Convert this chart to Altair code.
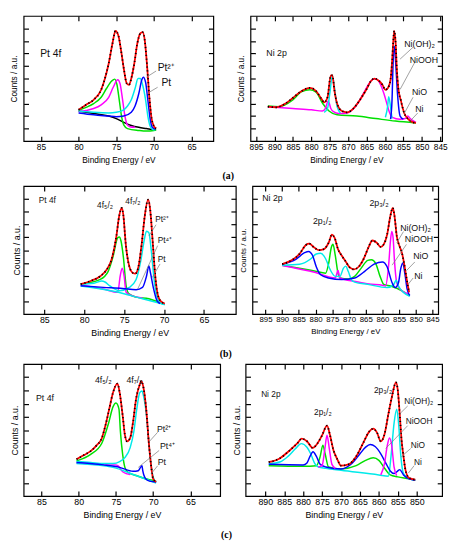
import altair as alt
import pandas as pd

SANS = "Liberation Sans"
SERIF = "Liberation Serif"
KEYS = ["bg", "green", "magenta", "cyan", "blue", "fit"]
COLS = ["#000000", "#00e000", "#ff00ff", "#00eaea", "#0000ff", "#ff0000"]

PT_TICKS = [85, 80, 75, 70, 65]
NI_TICKS_AB = [895, 890, 885, 880, 875, 870, 865, 860, 855, 850, 845]
NI_TICKS_C = [890, 885, 880, 875, 870, 865, 860, 855, 850]
Y_TICKS = [10, 20, 30, 40, 50, 60, 70, 80, 90]

# ---------------- (a) Pt 4f ----------------
A_PT_FIT = [(80, 25), (79, 29), (78, 33), (77, 41), (76.5, 50), (76, 62), (75.5, 78), (75.1, 88), (74.7, 84),
            (74.3, 70), (74, 58), (73.6, 46), (73.3, 45), (73, 50), (72.6, 62), (72.2, 78), (71.8, 86),
            (71.5, 87), (71.2, 80), (70.9, 60), (70.6, 35), (70.3, 18), (70, 12), (69.7, 10)]
A_PT_BG = [(80, 24), (78, 22), (76, 20), (75, 18), (74, 15), (73, 12.5), (72, 11), (71, 10), (70, 9), (69.7, 9)]
A_PT_GREEN = [(80, 24.5), (79, 27), (78, 30), (77, 35), (76.3, 42), (75.6, 48), (75.2, 49.5), (74.9, 45),
              (74.6, 33), (74.3, 20), (74, 13), (73.5, 10), (72, 8.5), (71, 8), (70, 8.5), (69.7, 9)]
A_PT_MAGENTA = [(80, 23.5), (79, 24.5), (78, 26), (77, 29), (76, 35), (75.4, 43), (74.8, 49), (74.5, 46),
                (74.2, 35), (73.9, 22), (73.6, 14), (73.2, 11.5), (72.5, 11)]
A_PT_CYAN = [(80, 24), (78, 23), (76, 22.5), (75, 23), (74, 25), (73.5, 28), (73, 33), (72.5, 42), (72.1, 50),
             (71.8, 50), (71.5, 45), (71.1, 33), (70.8, 20), (70.5, 12), (70.2, 9.5), (69.8, 9)]
A_PT_BLUE = [(80, 22.5), (78, 21), (76, 20), (75, 19.5), (74, 20), (73, 23), (72.5, 28), (72, 38), (71.6, 49),
             (71.4, 51), (71.1, 47), (70.8, 33), (70.5, 18), (70.2, 11), (69.8, 9.5)]
A_PT_LEFT_TEXT = [("Pt 4f", 85.1, 69.5), ("Pt²⁺", 69.5, 58), ("Pt", 69.0, 46)]
A_PT_MID_TEXT = []
A_PT_LEADERS = [(71.0, 51, 69.7, 56), (70.9, 38, 69.5, 43)]

# ---------------- (a) Ni 2p ----------------
A_NI_FIT = [(891.8, 27.5), (889.5, 27), (887, 30), (885.2, 34), (882.6, 40), (880.4, 42.5), (878.7, 40),
            (877.3, 34), (876.5, 31), (875.6, 35), (874.7, 52.5), (874.3, 52.5), (873.7, 40), (873, 30),
            (871.7, 24), (870.3, 23), (868.6, 26), (866.9, 32.5), (865.1, 41), (863.8, 48), (862.9, 50),
            (861.6, 48), (860.7, 45), (859.9, 41), (859.2, 42.5), (858.5, 49), (858.1, 62.5), (857.8, 77.5),
            (857.5, 88), (857.1, 77.5), (856.8, 57.5), (856.4, 42.5), (855.7, 32.5), (854.8, 22.5),
            (853.7, 17.5), (852.4, 15), (851.6, 14.5)]
A_NI_GREEN = [(891.8, 28), (888.7, 27.5), (885.2, 32.5), (882.6, 39.5), (880.4, 41), (878.7, 39), (876.9, 30),
              (875.2, 24), (873, 21), (867.7, 20), (862.5, 18), (857.2, 16), (851.6, 14.5)]
A_NI_MAGENTA = [(891.8, 27.5), (885, 26), (880, 25), (877, 24), (876.2, 26), (875.4, 32), (874.7, 26),
                (874, 23.5), (872.5, 22), (870.3, 22.5), (868.5, 26), (867, 32), (865.5, 40), (864.2, 46.5),
                (863.2, 49.5), (862.3, 49.5), (861.2, 45), (860.3, 38), (859.5, 30), (858.8, 23), (858, 19),
                (856, 17.5), (854.5, 18), (853.8, 20), (853.2, 18), (851.6, 15)]
A_NI_CYAN1 = [(876.5, 23), (875.6, 26), (874.9, 40), (874.3, 52.5), (873.7, 42.5), (873, 27.5), (872.1, 22.5)]
A_NI_CYAN2 = [(859.9, 19), (859.3, 27.5), (859, 35.5), (858.5, 27.5), (858.1, 18)]
A_NI_BLUE = [(858.5, 17.5), (858.1, 32.5), (857.8, 62.5), (857.4, 75.5), (857.1, 62.5), (856.6, 37.5),
             (855.9, 20), (855, 17.5)]
A_NI_LEFT_TEXT = [("Ni 2p", 892.2, 70), ("Ni(OH)₂", 854.8, 77.5), ("NiOOH", 853.3, 65),
                  ("NiO", 852.7, 38.8), ("Ni", 851.8, 25.5)]
A_NI_MID_TEXT = []
A_NI_LEADERS = [(855.9, 65.5, 852.4, 75), (855.9, 41.3, 852.0, 62.5), (854.8, 22, 852.4, 35),
                (853.5, 15, 851.1, 22.5)]

# ---------------- (b) Pt 4f ----------------
B_PT_FIT = [(80.45, 23.4), (79.2, 25.9), (78.0, 29.6), (77.2, 34.7), (76.6, 42.2), (76.0, 59.8), (75.6, 77.4),
            (75.3, 82.9), (75.1, 77.4), (74.8, 54.8), (74.35, 37.2), (73.9, 32.2), (73.6, 31.7), (73.2, 37.2),
            (72.8, 54.8), (72.4, 77.4), (72.0, 89.4), (71.75, 82.4), (71.4, 54.8), (71.1, 29.6), (70.7, 13.3),
            (70.3, 9.5), (69.9, 8.3)]
B_PT_GREEN = [(80.45, 23.4), (78, 27.1), (77, 33.4), (76.4, 44.7), (75.8, 59.8), (75.6, 60.3), (75.4, 57.3),
              (75.1, 44.7), (74.75, 22.1), (74.4, 15.8), (73.5, 13.3), (71.9, 12), (70.3, 8.3)]
B_PT_MAGENTA = [(80.45, 22.6), (77.6, 19.6), (75.8, 17.1), (75.5, 29.6), (75.25, 35.9), (75.0, 29.6),
                (74.75, 17.1), (74.1, 14.6), (72.7, 12.6)]
B_PT_CYAN = [(80.45, 23.4), (78.8, 24.1), (77.8, 25.9), (77.4, 25.1), (76.8, 22.1), (75.6, 18.3), (74.35, 20.9),
             (73.5, 27.1), (72.9, 42.2), (72.5, 57.3), (72.2, 64.8), (71.9, 63.6), (71.6, 49.7), (71.2, 24.6),
             (70.8, 12.1), (70.3, 8.3), (69.9, 7.5)]
B_PT_CYAN_BG = [(80.45, 22.0), (76, 17.5), (72.7, 12.0), (69.9, 7.5)]
B_PT_BLUE = [(80.45, 22.1), (77.6, 20.9), (75.2, 20.1), (73.5, 19.1), (72.7, 20.9), (72.2, 29.6), (71.9, 37.7),
             (71.7, 32.2), (71.3, 19.6), (70.9, 10.8), (70.5, 8.3)]
B_PT_LEFT_TEXT = [("Pt 4f", 85.7, 88.7), ("Pt²⁺", 71.1, 74.4), ("Pt⁴⁺", 70.8, 57.8), ("Pt", 70.8, 42.7)]
B_PT_MID_TEXT = [("4f₅/₂", 77.4, 85.4), ("4f₇/₂", 73.9, 88.0)]
B_PT_LEADERS = [(71.9, 61, 71.0, 69.8), (73.3, 19.6, 70.8, 53.5), (71.5, 28.4, 70.5, 39.2)]

# ---------------- (b) Ni 2p ----------------
B_NI_FIT = [(890, 39), (887.2, 42), (884.8, 47), (882.9, 54), (881.9, 55), (880.4, 52), (879.0, 50),
            (877.5, 50.75), (876.1, 55.75), (875.1, 62), (874.3, 59.5), (873.3, 50.75), (872.2, 45.75),
            (870.9, 40.75), (869.8, 36.5), (868.5, 35), (867.1, 37), (865.6, 43.25), (864.2, 52), (863, 57.5),
            (861.7, 55.75), (860.5, 52.5), (859.6, 54.5), (858.6, 62), (857.6, 77), (856.9, 83), (856.4, 77),
            (855.7, 60.75), (854.9, 53.25), (854.2, 48.25), (853.5, 39.5), (852.8, 28.25), (852, 17)]
B_NI_GREEN = [(890, 38.25), (884, 35.5), (880, 33.5), (877, 32), (876.1, 39.5), (875.3, 52), (874.8, 54.5),
              (874.1, 45.75), (873.3, 32), (872.7, 28.25), (870.2, 27.5), (868.3, 29.5), (866.4, 35.75),
              (864.4, 42), (863.3, 42.5), (862, 39.5), (860.7, 29.5), (859.6, 23.25), (857.6, 22),
              (854, 18), (852, 14.5)]
B_NI_BLUE = [(890, 39), (885.8, 43), (883.3, 48), (882.1, 49), (880.9, 45.75), (879.8, 37), (878.5, 30.75),
             (876.1, 28.25), (872.2, 27), (868.3, 28.25), (865.4, 33.25), (862.5, 39), (860, 40.75),
             (858.6, 37), (857.1, 24.5), (856.2, 20.75), (855.2, 24.5), (854.5, 35.75), (853.9, 40),
             (853.3, 32), (852.6, 19.5), (851.8, 14.5)]
B_NI_CYAN = [(890, 38.25), (884.8, 39), (881.4, 43.25), (879.8, 47), (878.5, 47.5), (877, 43.25),
             (875.6, 34.5), (874.1, 29.5), (872.7, 29.5), (871.7, 35.75), (871, 37.5), (870.2, 33.25),
             (869.3, 27), (868.3, 25), (864.4, 23.25), (858.6, 20.75), (856.6, 23.25), (855.9, 26.5),
             (855.2, 22), (853.7, 17), (851.8, 14)]
B_NI_MAGENTA = [(890, 38.0), (880, 32.5), (874.1, 28.25), (873.3, 34), (872.7, 28.25), (868, 25.5),
                (864, 23.5), (860, 22.5), (859.1, 22), (858.1, 39.5), (857.6, 57), (857.2, 64.5), (856.8, 59.5),
                (856.4, 42), (855.7, 24.5), (854.7, 19.5), (852.3, 15.75)]
B_NI_LEFT_TEXT = [("Ni 2p", 896, 90.75), ("Ni(OH)₂", 854.7, 67.5), ("NiOOH", 853.3, 58.25),
                  ("NiO", 850.8, 45), ("Ni", 850.5, 30)]
B_NI_MID_TEXT = [("2p₁/₂", 878, 72.5), ("2p₃/₂", 861, 86.5)]
B_NI_LEADERS = [(855.7, 55.75, 853.7, 64.5), (857.1, 38.25, 852.8, 54.5), (852.8, 34, 850.3, 40.75),
                (852.3, 23.25, 850.8, 28.25)]

# ---------------- (c) Pt 4f ----------------
C_PT_FIT = [(80.3, 27.8), (79.3, 31), (78.4, 34), (77.6, 38.4), (76.9, 43.8), (76.4, 53.7), (75.9, 66),
            (75.4, 78.3), (74.8, 85.2), (74.5, 78.3), (74.1, 61), (73.8, 46.3), (73.5, 41.4), (73.1, 43.8),
            (72.7, 56.2), (72.3, 73.4), (71.8, 84.5), (71.6, 87), (71.3, 82), (70.9, 63.5), (70.6, 41.4),
            (70.3, 24.1), (70.0, 13), (69.6, 10.6)]
C_PT_GREEN = [(80.3, 26.6), (78.4, 31.5), (76.9, 40), (76.0, 55), (75.4, 67.5), (75.0, 70.4), (74.6, 66),
              (74.4, 48.8), (74.1, 31.5), (73.8, 21.7), (73.4, 18), (72.3, 15.5), (70.5, 12.3), (69.6, 11.3)]
C_PT_CYAN = [(80.3, 26.1), (78.4, 25.4), (76.7, 24.6), (75.4, 24.6), (74.5, 26.1), (73.8, 29.1), (73.1, 36.5),
             (72.6, 48.8), (72.2, 66), (71.8, 78.3), (71.5, 79.5), (71.3, 75.9), (70.9, 61), (70.6, 41.4),
             (70.3, 24.1), (70.0, 14.3), (69.6, 10.6)]
C_PT_CYAN_BG = [(80.3, 24.6), (75.4, 21.7), (72.3, 15.5), (69.6, 9.9)]
C_PT_BLUE = [(80.3, 25.4), (76.7, 23.6), (74.5, 21.7), (72.7, 18.7), (72.0, 19.2), (71.7, 21.7), (71.5, 22.9),
             (71.4, 19.2), (71.0, 13), (70.5, 11.3), (69.6, 10.6)]
C_PT_MAGENTA = [(80.3, 25.1), (76.7, 23.6), (75.1, 23.6), (74.7, 22.9), (74.4, 20.4), (74.0, 18), (73.1, 16.3)]
C_PT_LEFT_TEXT = [("Pt 4f", 85.75, 73.9), ("Pt²⁺", 69.5, 50.5), ("Pt⁴⁺", 69.1, 37.7), ("Pt", 69.4, 26.1)]
C_PT_MID_TEXT = [("4f₅/₂", 76.7, 88.2), ("4f₇/₂", 72.5, 88.2)]
C_PT_LEADERS = [(70.5, 41.4, 69.4, 48.3), (72.0, 21.7, 69.2, 34.5), (70.3, 16.7, 69.4, 22.9)]

# ---------------- (c) Ni 2p ----------------
C_NI_FIT = [(889.1, 25.6), (886.2, 28.5), (883.5, 34.7), (881.5, 40), (880.4, 43.4), (879, 41.5),
            (877.5, 36.5), (876.2, 40), (875, 46), (873.7, 53.3), (872.9, 46), (872, 34.7), (871, 28),
            (870, 23), (868, 24), (866, 30), (864, 41), (862.5, 49), (861.5, 51), (860.5, 48), (859.5, 41.4),
            (858.5, 47), (857.5, 62), (856.5, 76), (855.5, 86), (855, 80), (854.5, 62), (854, 42),
            (853.5, 30), (853, 20), (852, 13.6), (850.4, 12.4)]
C_NI_CYAN = [(889.1, 24.5), (886, 26), (884, 30), (882, 36), (880.5, 39.7), (879, 37), (878, 32), (877, 25),
             (876, 22), (874, 21), (870, 19.5), (860, 16), (857.5, 15), (856.8, 30), (856, 55), (855.3, 65.8),
             (854.8, 55), (854.2, 30), (853.5, 17), (852, 13), (850.4, 12)]
C_NI_BLUE = [(889.1, 24), (880, 23.5), (879, 25), (878.2, 30), (877.4, 33.5), (876.5, 30), (875.5, 24),
             (874, 22), (870, 20.5), (867, 25), (865, 32), (863.5, 37), (862.3, 39), (861, 37.5), (859.5, 32),
             (858, 24), (857, 19), (856, 17), (855, 19), (854.5, 20), (853.5, 16), (852, 13), (850.4, 12)]
C_NI_GREEN = [(889.1, 23), (880, 22.5), (876.5, 23), (875.5, 30), (874.8, 38.5), (874.2, 32), (873.3, 22),
              (870, 20.5), (866, 23), (863.5, 27), (861.5, 29), (860, 27), (858.5, 21), (857, 16), (855, 14.5),
              (852, 13), (850.4, 12)]
C_NI_MAGENTA1 = [(876, 22), (875, 23), (874.3, 35), (873.7, 46), (873.1, 36), (872.4, 24), (871.5, 21)]
C_NI_MAGENTA2 = [(859.5, 16), (858.5, 25), (857.8, 38), (857.2, 44), (856.6, 38), (856, 22), (855.3, 15.5)]
C_NI_LEFT_TEXT = [("Ni 2p", 891.1, 77), ("Ni(OH)₂", 853.3, 72), ("NiOOH", 852.9, 57), ("NiO", 851.6, 38.5),
                  ("Ni", 850.7, 25.6)]
C_NI_MID_TEXT = [("2p₁/₂", 874.8, 63.3), ("2p₃/₂", 858.9, 80.6)]
C_NI_LEADERS = [(854.6, 62, 852.4, 68.2), (858.2, 36, 852.4, 53.3), (854.1, 29.8, 851.6, 36),
                (852.2, 17.4, 850.7, 23)]

TICK = 5


def curves_frame(curves):
    rows = []
    for cid, (key, pts) in enumerate(curves):
        for i, (x, y) in enumerate(pts):
            rows.append({"x": x, "y": y, "c": key, "id": cid, "o": i})
    return pd.DataFrame(rows)


def text_frame(items):
    return pd.DataFrame([{"t": t, "x": x, "y": y} for t, x, y in items], columns=["t", "x", "y"])


def panel(curves, fit, left_text, mid_text, leaders, xdom, xticks, w, h, tpad, fs, tfs):
    xs = alt.Scale(domain=xdom, reverse=True, nice=False, zero=False)
    ys = alt.Scale(domain=[0, 100], nice=False, zero=False)
    xaxis = alt.Axis(values=xticks, title="Binding Energy / eV", offset=-TICK, tickSize=TICK, domain=False,
                     labelPadding=2, titlePadding=4, labelFontSize=fs, titleFontSize=fs, labelFlush=False,
                     labelOverlap=False, grid=False, ticks=True)
    yaxis = alt.Axis(values=Y_TICKS, labels=False, title="Counts / a.u.", offset=-TICK, tickSize=TICK,
                     domain=False, titlePadding=tpad, titleFontSize=fs, grid=False, ticks=True,
                     labelOverlap=False)
    X = alt.X("x:Q", scale=xs, axis=xaxis)
    Y = alt.Y("y:Q", scale=ys, axis=yaxis)
    comp = curves_frame(curves)
    fitdf = pd.DataFrame(fit, columns=["x", "y"])
    lines = alt.Chart(comp).mark_line(strokeWidth=1.5, interpolate="monotone").encode(
        x=X, y=Y,
        color=alt.Color("c:N", scale=alt.Scale(domain=KEYS, range=COLS), legend=None),
        detail="id:N",
        order="o:Q",
    )
    red = alt.Chart(fitdf).mark_line(strokeWidth=1.8, color="#ff0000", interpolate="monotone").encode(
        x=X, y=Y)
    dots = alt.Chart(fitdf).mark_line(strokeWidth=1.8, color="#000000", strokeDash=[1.2, 2.8],
                                      interpolate="monotone").encode(x=X, y=Y)
    lead = alt.Chart(pd.DataFrame(leaders, columns=["x", "y", "x2", "y2"])).mark_rule(
        color="#777777", strokeWidth=0.7).encode(x=X, y=Y, x2="x2:Q", y2="y2:Q")
    ltxt = alt.Chart(text_frame(left_text)).mark_text(align="left", baseline="middle", fontSize=tfs,
                                                      font=SANS, color="#111111").encode(
        x=X, y=Y, text="t:N")
    layers = [lines, red, dots, lead, ltxt]
    if mid_text:
        mtxt = alt.Chart(text_frame(mid_text)).mark_text(align="center", baseline="middle", fontSize=tfs,
                                                         font=SANS, color="#111111").encode(
            x=X, y=Y, text="t:N")
        layers.append(mtxt)
    inner = alt.layer(*layers)
    mirror = alt.Chart(fitdf).mark_point(opacity=0).encode(
        x=alt.X("x:Q", scale=xs, axis=alt.Axis(orient="top", values=xticks, labels=False, title=None,
                                                offset=-TICK, tickSize=TICK, domain=False, grid=False)),
        y=alt.Y("y:Q", scale=ys, axis=alt.Axis(orient="right", values=Y_TICKS, labels=False, title=None,
                                                offset=-TICK, tickSize=TICK, domain=False, grid=False)),
    )
    return alt.layer(inner, mirror).resolve_axis(x="independent", y="independent").properties(
        width=w, height=h)


a_pt = panel([("bg", A_PT_BG), ("green", A_PT_GREEN), ("magenta", A_PT_MAGENTA), ("cyan", A_PT_CYAN),
              ("blue", A_PT_BLUE)], A_PT_FIT, A_PT_LEFT_TEXT, A_PT_MID_TEXT, A_PT_LEADERS,
             [62.1, 87.3], PT_TICKS, 194, 128, 5, 8.5, 10.5)
a_ni = panel([("green", A_NI_GREEN), ("magenta", A_NI_MAGENTA), ("cyan", A_NI_CYAN1), ("cyan", A_NI_CYAN2),
              ("blue", A_NI_BLUE)], A_NI_FIT, A_NI_LEFT_TEXT, A_NI_MID_TEXT, A_NI_LEADERS,
             [844.5, 896.5], NI_TICKS_AB, 196, 128, 5, 8.5, 9)
b_pt = panel([("green", B_PT_GREEN), ("magenta", B_PT_MAGENTA), ("cyan", B_PT_CYAN_BG), ("cyan", B_PT_CYAN),
              ("blue", B_PT_BLUE)], B_PT_FIT, B_PT_LEFT_TEXT, B_PT_MID_TEXT, B_PT_LEADERS,
             [61.0, 87.6], PT_TICKS, 217, 131, 2, 9, 8.5)
b_ni = panel([("green", B_NI_GREEN), ("magenta", B_NI_MAGENTA), ("cyan", B_NI_CYAN), ("blue", B_NI_BLUE)],
             B_NI_FIT, B_NI_LEFT_TEXT, B_NI_MID_TEXT, B_NI_LEADERS,
             [843.3, 898.9], NI_TICKS_AB, 190, 131, 4, 8, 9)
c_pt = panel([("green", C_PT_GREEN), ("magenta", C_PT_MAGENTA), ("cyan", C_PT_CYAN_BG), ("cyan", C_PT_CYAN),
              ("blue", C_PT_BLUE)], C_PT_FIT, C_PT_LEFT_TEXT, C_PT_MID_TEXT, C_PT_LEADERS,
             [61.0, 87.4], PT_TICKS, 201, 135, 4, 9, 9)
c_ni = panel([("green", C_NI_GREEN), ("cyan", C_NI_CYAN), ("blue", C_NI_BLUE), ("magenta", C_NI_MAGENTA1),
              ("magenta", C_NI_MAGENTA2)], C_NI_FIT, C_NI_LEFT_TEXT, C_NI_MID_TEXT, C_NI_LEADERS,
             [843.3, 895.2], NI_TICKS_C, 201, 135, 4, 9, 8.5)


def row(left, right, label, spacing, offset):
    return alt.hconcat(left, right, spacing=spacing).properties(
        title=alt.TitleParams(label, orient="bottom", anchor="middle", font=SERIF, fontSize=10,
                              fontWeight="bold", offset=offset, color="black"))


chart = alt.vconcat(
    row(a_pt, a_ni, "(a)", 20, 7),
    row(b_pt, b_ni, "(b)", 1, 11),
    row(c_pt, c_ni, "(c)", 9, 10),
    spacing=3,
).properties(padding=0).configure_view(stroke="black", strokeWidth=1.2).configure_axis(
    labelFont=SANS, titleFont=SANS, tickColor="black", labelColor="black", titleColor="black",
    titleFontWeight="normal", grid=False, tickWidth=1.2, labelOverlap=False)

chart.save("out.html", embed_options={"renderer": "svg", "actions": False})
